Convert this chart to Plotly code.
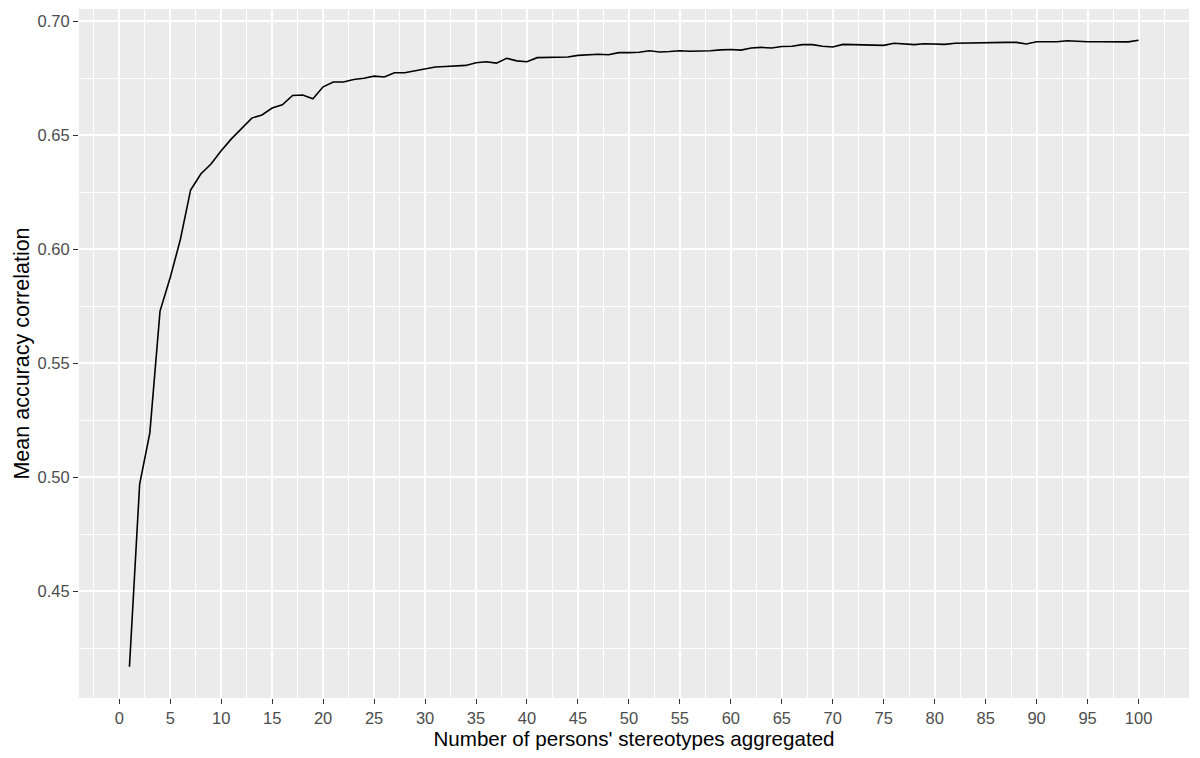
import plotly.graph_objects as go

n_persons = list(range(1, 101))
mean_accuracy = [
    0.417, 0.497, 0.5195, 0.5729, 0.5876, 0.6044, 0.626, 0.633, 0.6374, 0.6432,
    0.6484, 0.6528, 0.6575, 0.6589, 0.6619, 0.6633, 0.6674, 0.6676, 0.6660, 0.6712,
    0.6733, 0.6733, 0.6744, 0.6750, 0.6759, 0.6755, 0.6774, 0.6774, 0.6783, 0.6791,
    0.6799, 0.6801, 0.6804, 0.6806, 0.6818, 0.6822, 0.6816, 0.6837, 0.6826, 0.6822,
    0.6840, 0.6840, 0.6840, 0.6843, 0.6850, 0.6853, 0.6855, 0.6853, 0.6862, 0.6862,
    0.6864, 0.6870, 0.6865, 0.6867, 0.6870, 0.6868, 0.6868, 0.6870, 0.6874, 0.6876,
    0.6873, 0.6882, 0.6885, 0.6882, 0.6889, 0.6890, 0.6897, 0.6897, 0.6890, 0.6887,
    0.6898, 0.6897, 0.6894, 0.6894, 0.6894, 0.6903, 0.6900, 0.6897, 0.6901, 0.6898,
    0.6898, 0.6903, 0.6904, 0.6907, 0.6907, 0.6907, 0.6907, 0.6907, 0.6900, 0.6910,
    0.6910, 0.6910, 0.6914, 0.6911, 0.6910, 0.6910, 0.6910, 0.6907, 0.6909, 0.6916,
]
x_ticks = list(range(0, 101, 5))
y_ticks = [0.45, 0.50, 0.55, 0.60, 0.65, 0.70]

x_title = "Number of persons' stereotypes aggregated"
y_title = "Mean accuracy correlation"

xmin, xmax = min(n_persons), max(n_persons)
ymin, ymax = min(mean_accuracy), max(mean_accuracy)
xpad = (xmax - xmin) * 0.05
ypad = (ymax - ymin) * 0.05

fig = go.Figure()
fig.add_trace(go.Scatter(
    x=n_persons, y=mean_accuracy, mode="lines",
    line=dict(color="black", width=1.6), showlegend=False,
))

font_family = "Liberation Sans, Arial, sans-serif"
fig.update_layout(
    width=1200, height=758,
    paper_bgcolor="white", plot_bgcolor="#EBEBEB",
    margin=dict(l=79, r=10.5, t=9, b=59.5),
    font=dict(family=font_family),
    xaxis=dict(
        range=[xmin - xpad, xmax + xpad],
        tickmode="array", tickvals=x_ticks, ticktext=[str(v) for v in x_ticks],
        showgrid=True, gridcolor="white", gridwidth=1.5,
        minor=dict(tickmode="array", tickvals=[v + 2.5 for v in x_ticks[:-1]] + [-2.5, 102.5],
                   showgrid=True, gridcolor="white", gridwidth=0.75, ticks=""),
        ticks="outside", ticklen=5, tickwidth=1.1, tickcolor="#333333",
        tickfont=dict(size=16.5, color="#4D4D4D"),
        zeroline=False, showline=False, automargin=False,
        title=dict(text=x_title, font=dict(size=20.6, color="black"), standoff=4),
    ),
    yaxis=dict(
        range=[ymin - ypad, ymax + ypad],
        tickmode="array", tickvals=y_ticks, ticktext=[f"{v:.2f}" for v in y_ticks],
        showgrid=True, gridcolor="white", gridwidth=1.5,
        minor=dict(tickmode="array", tickvals=[v - 0.025 for v in y_ticks] + [0.725],
                   showgrid=True, gridcolor="white", gridwidth=0.75, ticks=""),
        ticks="outside", ticklen=5, tickwidth=1.1, tickcolor="#333333",
        tickfont=dict(size=16.5, color="#4D4D4D"),
        zeroline=False, showline=False, automargin=False,
        title=dict(text=y_title, font=dict(size=21.5, color="black"), standoff=2),
    ),
)

fig.write_html(
    "out.html",
    config={"displayModeBar": False},
    post_script="document.body.style.margin='0';document.body.style.padding='0';",
)
